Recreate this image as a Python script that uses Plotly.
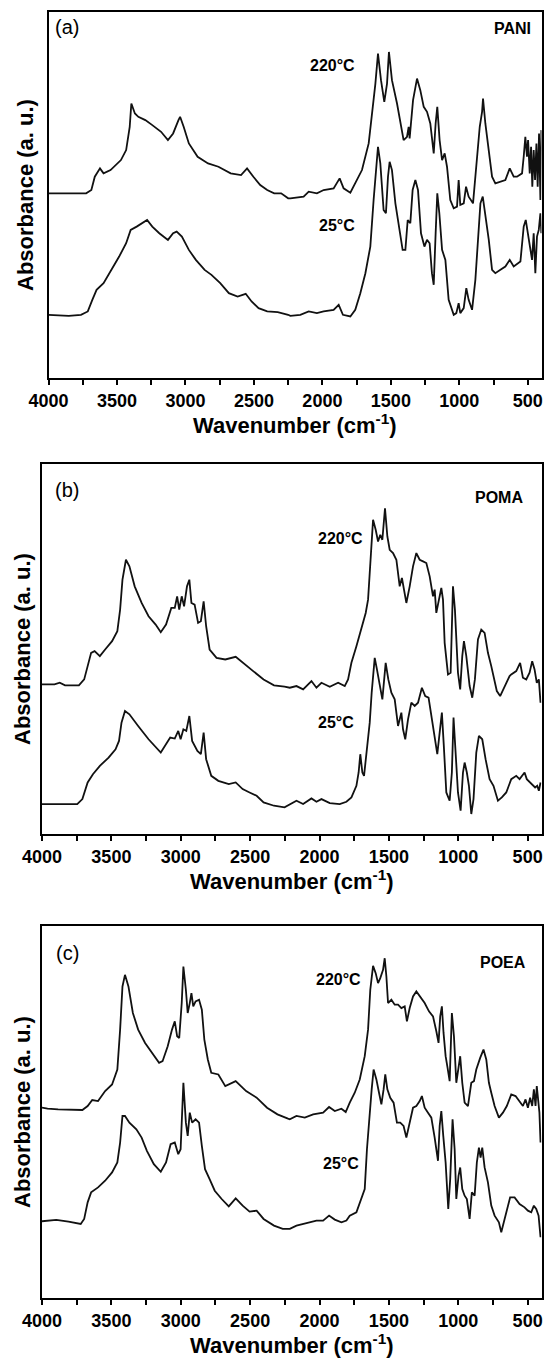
import plotly.graph_objects as go

W, H = 546, 1362

# ---------------- data (wavenumber in cm-1, absorbance in a.u.) ----------------
pani_220_wn = [4000, 3725, 3687, 3662, 3624, 3598, 3547, 3471, 3433, 3407, 3395, 3369, 3344, 3293, 3242,
               3178, 3128, 3090, 3051, 3039, 3013, 2975, 2911, 2835, 2759, 2670, 2594, 2550, 2504, 2454,
               2403, 2352, 2301, 2250, 2234, 2137, 2100, 2040, 1991, 1918, 1874, 1845, 1796, 1760, 1711,
               1662, 1638, 1613, 1594, 1572, 1548, 1528, 1514, 1492, 1455, 1431, 1407, 1382, 1370, 1363,
               1338, 1309, 1285, 1260, 1236, 1212, 1187, 1173, 1161, 1144, 1126, 1107, 1090, 1066, 1041,
               1017, 1005, 993, 968, 951, 932, 900, 876, 851, 834, 827, 810, 785, 761, 737, 700, 664, 632,
               603, 579, 542, 530, 518, 506, 498, 486, 476, 467, 457, 447, 437, 428, 418, 408, 401]
pani_220_ab = [.555, .555, .565, .605, .63, .615, .625, .655, .685, .755, .825, .795, .785, .775, .76,
               .74, .715, .735, .775, .785, .755, .705, .665, .645, .635, .615, .61, .63, .605, .58,
               .565, .555, .555, .54, .54, .545, .56, .555, .565, .57, .60, .57, .557, .585, .625,
               .705, .785, .885, .975, .895, .83, .885, .98, .895, .825, .765, .715, .725, .755, .72,
               .835, .90, .865, .815, .80, .765, .675, .765, .815, .715, .655, .675, .635, .535, .51,
               .515, .595, .52, .525, .575, .545, .525, .635, .755, .80, .84, .765, .685, .605, .585,
               .59, .595, .63, .605, .605, .615, .665, .725, .665, .715, .615, .695, .575, .685, .595,
               .705, .575, .735, .535, .745]

pani_25_wn = [4000, 3852, 3763, 3713, 3680, 3649, 3598, 3547, 3484, 3433, 3400, 3356, 3318, 3280, 3242,
              3191, 3128, 3090, 3064, 3026, 2975, 2924, 2860, 2810, 2746, 2683, 2619, 2560, 2517, 2466,
              2403, 2326, 2250, 2234, 2161, 2100, 2040, 1991, 1918, 1881, 1850, 1796, 1760, 1723, 1686,
              1650, 1626, 1609, 1594, 1577, 1553, 1536, 1521, 1509, 1492, 1467, 1450, 1431, 1414, 1394,
              1377, 1358, 1341, 1321, 1302, 1280, 1255, 1236, 1217, 1200, 1187, 1173, 1161, 1146, 1126,
              1102, 1078, 1041, 1022, 1005, 993, 968, 949, 932, 907, 883, 864, 846, 829, 810, 785, 761,
              737, 700, 664, 632, 603, 554, 530, 515, 501, 486, 469, 457, 445, 433, 420, 408, 401]
pani_25_ab = [.19, .187, .19, .20, .235, .265, .285, .32, .365, .405, .445, .455, .465, .475, .455,
              .435, .415, .435, .44, .425, .385, .355, .325, .31, .285, .255, .245, .253, .23, .21,
              .20, .198, .19, .187, .19, .20, .195, .20, .205, .22, .19, .185, .205, .255, .315,
              .395, .535, .625, .695, .645, .505, .495, .605, .65, .625, .525, .475, .435, .385, .385,
              .475, .465, .565, .595, .565, .435, .395, .415, .405, .315, .28, .435, .555, .495, .385,
              .355, .235, .19, .195, .225, .195, .21, .27, .235, .205, .295, .425, .525, .545, .495,
              .415, .325, .315, .325, .335, .355, .335, .35, .455, .475, .435, .395, .355, .435, .315,
              .425, .445, .495, .435]

poma_220_wn = [4000, 3910, 3872, 3834, 3734, 3696, 3671, 3646, 3621, 3583, 3545, 3495, 3457, 3437, 3420,
               3395, 3370, 3332, 3282, 3232, 3181, 3144, 3106, 3068, 3043, 3026, 3011, 2993, 2976, 2955,
               2938, 2923, 2900, 2875, 2855, 2835, 2817, 2792, 2742, 2679, 2604, 2554, 2478, 2403, 2328,
               2252, 2214, 2166, 2118, 2058, 2022, 1986, 1926, 1866, 1818, 1794, 1770, 1734, 1698, 1667,
               1650, 1634, 1614, 1595, 1578, 1562, 1547, 1528, 1511, 1494, 1470, 1446, 1422, 1406, 1386,
               1374, 1350, 1326, 1302, 1278, 1254, 1230, 1206, 1182, 1170, 1158, 1139, 1122, 1110, 1098,
               1074, 1055, 1038, 1024, 1002, 986, 971, 959, 942, 918, 899, 880, 858, 834, 810, 786, 762,
               738, 722, 698, 666, 630, 618, 582, 554, 534, 510, 486, 467, 450, 434, 419, 407]
poma_220_ab = [.45, .45, .455, .447, .447, .465, .505, .545, .55, .535, .555, .58, .61, .675, .765,
               .825, .805, .745, .695, .655, .63, .607, .63, .68, .68, .715, .675, .715, .685, .745,
               .765, .695, .69, .635, .64, .70, .625, .555, .53, .525, .533, .515, .49, .465, .447,
               .443, .44, .445, .435, .46, .44, .455, .443, .455, .445, .465, .515, .565, .615, .665,
               .705, .805, .945, .915, .88, .90, .885, .98, .895, .855, .845, .825, .745, .77, .725,
               .695, .745, .805, .845, .825, .82, .815, .775, .715, .735, .665, .705, .74, .705, .575,
               .48, .485, .745, .675, .485, .435, .535, .58, .535, .445, .41, .465, .585, .615, .605,
               .545, .505, .465, .43, .415, .445, .475, .48, .49, .515, .47, .465, .485, .52, .495,
               .455, .465, .395]

poma_25_wn = [4000, 3859, 3746, 3709, 3671, 3633, 3583, 3520, 3470, 3445, 3427, 3402, 3370, 3307, 3232,
              3144, 3106, 3076, 3043, 3018, 3001, 2981, 2960, 2938, 2918, 2880, 2855, 2835, 2817, 2780,
              2729, 2654, 2604, 2554, 2504, 2453, 2403, 2328, 2252, 2214, 2166, 2118, 2058, 2022, 1986,
              1926, 1854, 1806, 1770, 1734, 1718, 1706, 1691, 1679, 1658, 1638, 1624, 1602, 1586, 1566,
              1547, 1523, 1504, 1482, 1458, 1434, 1410, 1398, 1382, 1362, 1338, 1314, 1290, 1262, 1238,
              1214, 1190, 1170, 1151, 1134, 1118, 1104, 1086, 1062, 1046, 1034, 1020, 1002, 983, 966,
              954, 938, 923, 906, 890, 870, 851, 827, 803, 774, 746, 714, 686, 654, 618, 582, 558, 522,
              506, 482, 462, 446, 431, 419, 407]
poma_25_ab = [.09, .09, .09, .105, .155, .18, .205, .23, .255, .28, .335, .37, .36, .325, .285,
              .245, .27, .29, .287, .31, .285, .315, .31, .355, .28, .25, .24, .305, .225, .175,
              .16, .15, .155, .135, .125, .115, .095, .085, .08, .09, .10, .09, .107, .097, .105,
              .093, .09, .097, .11, .145, .185, .24, .185, .175, .255, .335, .425, .53, .495, .445,
              .405, .515, .465, .425, .405, .325, .365, .315, .285, .345, .395, .385, .395, .44, .415,
              .41, .345, .305, .24, .305, .365, .265, .125, .10, .185, .35, .255, .125, .07, .185,
              .215, .185, .145, .06, .105, .245, .295, .285, .225, .165, .145, .10, .11, .125, .165,
              .175, .165, .185, .165, .155, .145, .14, .145, .13, .155]

poea_220_wn = [4000, 3960, 3884, 3809, 3709, 3671, 3638, 3596, 3545, 3495, 3457, 3437, 3420, 3402, 3377,
               3345, 3307, 3257, 3207, 3156, 3131, 3094, 3063, 3043, 3026, 3011, 2993, 2981, 2963, 2950,
               2935, 2923, 2910, 2893, 2868, 2848, 2830, 2805, 2780, 2729, 2679, 2604, 2529, 2453, 2378,
               2303, 2227, 2214, 2166, 2106, 2046, 1974, 1931, 1890, 1842, 1811, 1782, 1746, 1710, 1674,
               1650, 1634, 1614, 1595, 1578, 1562, 1542, 1530, 1518, 1506, 1482, 1458, 1434, 1410, 1386,
               1370, 1350, 1326, 1302, 1274, 1242, 1211, 1182, 1158, 1142, 1130, 1118, 1106, 1091, 1077,
               1062, 1046, 1031, 1014, 1000, 986, 971, 954, 930, 906, 887, 870, 842, 818, 798, 779, 762,
               738, 707, 678, 650, 618, 587, 558, 534, 515, 498, 482, 467, 455, 443, 434, 424, 415, 407]
poea_220_ab = [.573, .57, .568, .568, .566, .578, .596, .593, .623, .643, .688, .808, .938, .973, .938,
               .858, .808, .768, .738, .708, .713, .758, .808, .833, .788, .783, .888, .998, .928, .858,
               .888, .918, .878, .893, .898, .868, .778, .718, .678, .673, .638, .653, .623, .603, .573,
               .553, .54, .538, .548, .543, .553, .558, .575, .563, .57, .56, .588, .618, .658, .728,
               .808, .928, 1.0, .978, .948, .963, .988, 1.023, .968, .888, .898, .883, .883, .873, .878,
               .833, .873, .908, .923, .908, .888, .863, .848, .803, .768, .848, .878, .798, .728, .693,
               .653, .858, .788, .648, .693, .728, .648, .588, .578, .648, .653, .688, .723, .748, .718,
               .648, .618, .578, .543, .558, .578, .613, .608, .593, .578, .598, .573, .603, .578, .628,
               .578, .638, .588, .558, .468]

poea_25_wn = [4000, 3897, 3809, 3721, 3696, 3671, 3646, 3596, 3545, 3495, 3457, 3437, 3420, 3402, 3370,
              3320, 3282, 3244, 3194, 3144, 3106, 3073, 3043, 3018, 3001, 2981, 2963, 2950, 2935, 2918,
              2893, 2868, 2848, 2825, 2792, 2755, 2705, 2654, 2604, 2554, 2504, 2453, 2403, 2328, 2265,
              2214, 2166, 2094, 2022, 1974, 1931, 1890, 1842, 1806, 1782, 1734, 1698, 1674, 1658, 1638,
              1624, 1610, 1590, 1571, 1554, 1538, 1526, 1511, 1490, 1466, 1442, 1418, 1394, 1374, 1350,
              1326, 1302, 1278, 1262, 1242, 1218, 1194, 1170, 1146, 1134, 1122, 1108, 1091, 1072, 1058,
              1041, 1026, 1014, 998, 986, 971, 954, 938, 918, 902, 882, 866, 851, 839, 827, 810, 786,
              762, 738, 707, 690, 659, 626, 594, 558, 522, 498, 474, 455, 438, 421, 407]
poea_25_ab = [.231, .235, .23, .223, .238, .288, .318, .333, .353, .378, .408, .468, .548, .548, .528,
              .508, .483, .443, .403, .38, .408, .463, .468, .433, .448, .648, .528, .488, .558, .528,
              .538, .528, .458, .388, .358, .323, .298, .276, .30, .278, .26, .263, .238, .218, .208,
              .208, .218, .226, .233, .233, .248, .236, .228, .233, .248, .258, .298, .328, .448, .568,
              .628, .688, .658, .618, .583, .628, .673, .628, .603, .588, .528, .528, .518, .483, .528,
              .573, .578, .593, .608, .573, .558, .543, .483, .413, .518, .563, .488, .408, .268, .358,
              .538, .448, .298, .368, .393, .328, .308, .298, .238, .318, .308, .408, .453, .423, .453,
              .393, .348, .278, .248, .228, .198, .248, .303, .303, .283, .273, .263, .258, .278, .268,
              .248, .183]

panels = [
    dict(name="PANI", tag="(a)", hot=(pani_220_wn, pani_220_ab), cold=(pani_25_wn, pani_25_ab), yr=[0, 1.10]),
    dict(name="POMA", tag="(b)", hot=(poma_220_wn, poma_220_ab), cold=(poma_25_wn, poma_25_ab), yr=[0, 1.113]),
    dict(name="POEA", tag="(c)", hot=(poea_220_wn, poea_220_ab), cold=(poea_25_wn, poea_25_ab), yr=[0, 1.12]),
]
x_ticks = [4000, 3500, 3000, 2500, 2000, 1500, 1000, 500]
x_range = [4000, 400]

# ---------------- layout geometry (pixels) ----------------
boxes = [  # left, right, top, bottom
    (48.5, 541.5, 12, 378),
    (42, 541.5, 464, 834),
    (42, 541.5, 926, 1298),
]
px = lambda x: x / W
py = lambda y: 1 - y / H

FONT = "Liberation Sans, Arial, Helvetica, sans-serif"
fig = go.Figure()
annotations = []
label_pos = [
    dict(tag=(67, 27), name=(512, 28), hot=(357, 65, "right"), cold=(357, 225, "right"), ytx=25),
    dict(tag=(67, 490), name=(499, 498), hot=(316, 538, "left"), cold=(316, 722, "left"), ytx=22),
    dict(tag=(67, 953), name=(503, 962), hot=(363, 979, "right"), cold=(361, 1163, "right"), ytx=22),
]

for i, (p, b, lp) in enumerate(zip(panels, boxes, label_pos)):
    l, r, t, bt = b
    xa = "x" if i == 0 else f"x{i+1}"
    ya = "y" if i == 0 else f"y{i+1}"
    for wn, ab in (p["hot"], p["cold"]):
        fig.add_trace(go.Scatter(x=wn, y=ab, mode="lines", xaxis=xa, yaxis=ya,
                                 line=dict(color="#111111", width=1.8), showlegend=False,
                                 hoverinfo="skip"))
    xkey = "xaxis" if i == 0 else f"xaxis{i+1}"
    ykey = "yaxis" if i == 0 else f"yaxis{i+1}"
    fig.layout[xkey] = dict(domain=[px(l), px(r)], anchor=ya, range=x_range, automargin=False,
                            tickvals=x_ticks, ticktext=[str(v) for v in x_ticks],
                            ticks="outside", ticklen=5, tickwidth=1.5, tickcolor="black",
                            minor=dict(dtick=250, tick0=0, ticks="outside", ticklen=5, tickwidth=1.5,
                                       tickcolor="black", showgrid=False),
                            showline=True, linecolor="black", linewidth=1.6, mirror=True,
                            showgrid=False, zeroline=False,
                            tickfont=dict(family=FONT, size=18, color="black", weight="bold"),
                            ticklabelstandoff=1)
    fig.layout[ykey] = dict(domain=[py(bt), py(t)], anchor=xa, range=p["yr"], automargin=False,
                            showticklabels=False, ticks="", showline=True, linecolor="black",
                            linewidth=1.6, mirror=True, showgrid=False, zeroline=False)
    cx = (l + r) / 2
    annotations += [
        dict(text="Wavenumber (cm<sup>-1</sup>)", x=px(cx), y=py(bt + 46), xref="paper", yref="paper",
             showarrow=False, xanchor="center", yanchor="middle",
             font=dict(family=FONT, size=22, color="black", weight="bold")),
        dict(text="Absorbance (a. u.)", x=px(lp["ytx"]), y=py((t + bt) / 2), xref="paper", yref="paper",
             showarrow=False, textangle=-90, xanchor="center", yanchor="middle",
             font=dict(family=FONT, size=22, color="black", weight="bold")),
        dict(text=p["tag"], x=px(lp["tag"][0]), y=py(lp["tag"][1]), xref="paper", yref="paper",
             showarrow=False, xanchor="center", yanchor="middle",
             font=dict(family=FONT, size=20, color="black")),
        dict(text=p["name"], x=px(lp["name"][0]), y=py(lp["name"][1]), xref="paper", yref="paper",
             showarrow=False, xanchor="center", yanchor="middle",
             font=dict(family=FONT, size=16, color="black", weight="bold")),
        dict(text="220°C", x=px(lp["hot"][0]), y=py(lp["hot"][1]), xref="paper", yref="paper",
             showarrow=False, xanchor=lp["hot"][2], yanchor="middle",
             font=dict(family=FONT, size=16, color="black", weight="bold")),
        dict(text="25°C", x=px(lp["cold"][0]), y=py(lp["cold"][1]), xref="paper", yref="paper",
             showarrow=False, xanchor=lp["cold"][2], yanchor="middle",
             font=dict(family=FONT, size=16, color="black", weight="bold")),
    ]

fig.update_layout(width=W, height=H, margin=dict(l=0, r=0, t=0, b=0, autoexpand=False),
                  paper_bgcolor="white", plot_bgcolor="white", annotations=annotations,
                  showlegend=False)
fig.write_html("out.html", config={"displayModeBar": False})
